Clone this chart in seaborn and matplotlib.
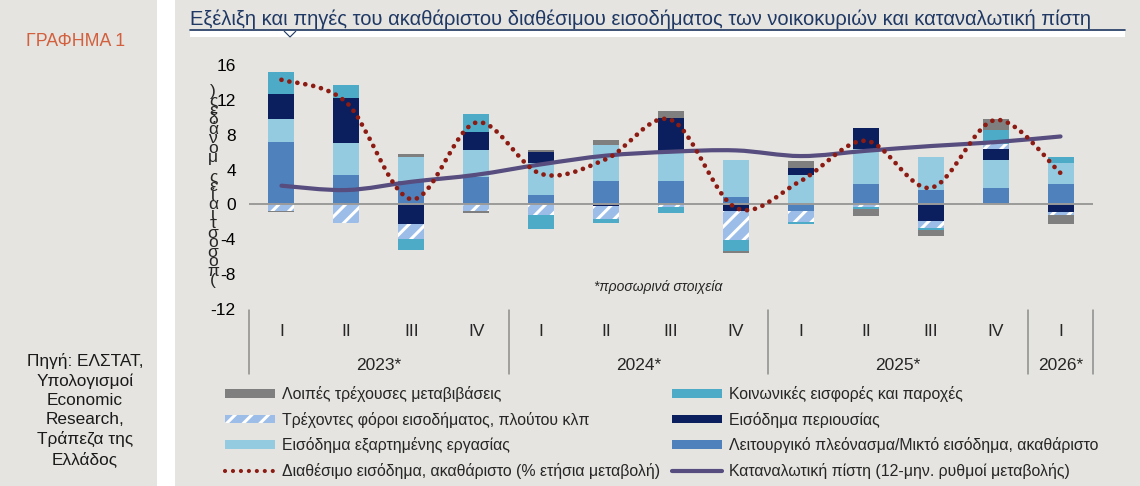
import numpy as np
import pandas as pd
import matplotlib
matplotlib.use('Agg')
import matplotlib.pyplot as plt
import seaborn as sns
from matplotlib.path import Path as MPath
from matplotlib.patches import PathPatch, Rectangle, Polygon, Patch
from matplotlib.lines import Line2D
import matplotlib.transforms as mtrans

#-----------------------------------------------
quarters=['I','II','III','IV','I','II','III','IV','I','II','III','IV','I']
years=['2023*','2024*','2025*','2026*']
year_len=[4,4,4,1]

#components (percentage points), stacked in this order
oper  =[7.15, 3.35, 2.65, 3.15, 1.05, 2.7, 2.65, 0.9, -0.75, 2.4, 1.7, 1.9, 2.4]
wage  =[2.7, 3.65, 2.8, 3.1, 3.7, 4.15, 3.5, 4.2, 3.4, 3.95, 3.75, 3.2, 2.4]
prop  =[2.8, 5.2, -2.3, 2.1, 1.3, -0.2, 3.8, -0.75, 0.75, 2.4, -1.9, 1.3, -0.9]
tax   =[-0.7, -2.1, -1.65, -0.75, -1.25, -1.45, -0.25, -3.35, -1.25, -0.25, -0.8, 0.55, -0.3]
social=[2.5, 1.5, -1.3, 2.0, -1.6, -0.45, -0.7, -1.25, -0.25, -0.25, -0.25, 1.55, 0.7]
other =[-0.2, -0.05, 0.35, -0.25, 0.25, 0.55, 0.75, -0.2, 0.8, -0.8, -0.7, 1.25, -1.1]

#lines
income=[14.3, 11.7, 0.6, 9.4, 3.5, 5.2, 9.7, -0.4, 2.7, 7.3, 1.9, 9.7, 3.6]
credit=[2.15, 1.65, 2.6, 3.4, 4.6, 5.6, 6.05, 6.2, 5.55, 6.15, 6.7, 7.15, 7.8]

lbl_oper='Λειτουργικό πλεόνασμα/Μικτό εισόδημα, ακαθάριστο'
lbl_wage='Εισόδημα εξαρτημένης εργασίας'
lbl_prop='Εισόδημα περιουσίας'
lbl_tax='Τρέχοντες φόροι εισοδήματος, πλούτου κλπ'
lbl_social='Κοινωνικές εισφορές και παροχές'
lbl_other='Λοιπές τρέχουσες μεταβιβάσεις'
lbl_income='Διαθέσιμο εισόδημα, ακαθάριστο (% ετήσια μεταβολή)'
lbl_credit='Καταναλωτική πίστη (12-μην. ρυθμοί μεταβολής)'

#######################################################
bg='#e5e4e0'
c_oper='#4f81bd'
c_wage='#94cbe0'
c_prop='#0b1f5e'
c_tax='#9bbde8'
c_social='#4eabc7'
c_other='#7f7f7f'
c_income='#8c1c13'
c_credit='#574d7e'
c_title='#1f3864'

sns.set_theme(style='white', rc={'axes.facecolor': bg, 'figure.facecolor': bg})
plt.rcParams['font.family']=['Liberation Sans', 'DejaVu Sans']
plt.rcParams['axes.unicode_minus']=False
plt.rcParams['hatch.linewidth']=2.2
plt.rcParams['hatch.color']='white'

W, H=1140, 486
fig=plt.figure(figsize=(W/100, H/100), dpi=100)
ax=fig.add_axes([249/W, 1-309/H, (1093-249)/W, (309-65)/H])
ax.set_facecolor(bg)

#-----------------------------------------------
def smooth_path(y):
    #excel-like smoothed line (cubic bezier through the points)
    y=np.asarray(y, float)
    x=np.arange(len(y), dtype=float)
    n=len(y)
    verts=[(x[0], y[0])]
    codes=[MPath.MOVETO]
    for i in range(n-1):
        a=max(i-1, 0)
        b=min(i+2, n-1)
        c1=(x[i]+(x[i+1]-x[a])/6, y[i]+(y[i+1]-y[a])/6)
        c2=(x[i+1]-(x[b]-x[i])/6, y[i+1]-(y[b]-y[i])/6)
        verts+=[c1, c2, (x[i+1], y[i+1])]
        codes+=[MPath.CURVE4]*3
    return MPath(verts, codes)

#stacked bars, positives up and negatives down
comps=[(oper, c_oper, None), (wage, c_wage, None), (prop, c_prop, None),
       (tax, c_tax, '//'), (social, c_social, None), (other, c_other, None)]
xpos=np.arange(len(quarters))
pos=np.zeros(len(xpos))
neg=np.zeros(len(xpos))
for vals, col, hatch in comps:
    v=np.array(vals, float)
    bottom=np.where(v>=0, pos, neg)
    df=pd.DataFrame({'q': xpos, 'v': v})
    sns.barplot(data=df, x='q', y='v', bottom=bottom, color=col, width=0.4,
                errorbar=None, saturation=1, ax=ax, hatch=hatch,
                edgecolor='white' if hatch else col, linewidth=0, zorder=2)
    pos=pos+np.where(v>=0, v, 0)
    neg=neg+np.where(v<0, v, 0)

ax.axhline(0, color='#9a9a9a', lw=1.4, zorder=2.5)

#smoothed lines
ax.add_patch(PathPatch(smooth_path(credit), fill=False, edgecolor=c_credit, lw=3.0,
                       capstyle='round', zorder=3))
ax.add_patch(PathPatch(smooth_path(income), fill=False, edgecolor=c_income, lw=3.4,
                       linestyle=(0, (0.01, 1.7)), capstyle='round', zorder=4))

#axes
ax.set_xlim(-0.5, len(quarters)-0.5)
ax.set_ylim(-12, 16)
ax.set_yticks(np.arange(-12, 17, 4))
ax.set_xticks([])
ax.set_xlabel('')
ax.set_ylabel('')
ax.tick_params(axis='y', length=0, pad=9.5, labelsize=12.5, labelcolor='black')
sns.despine(ax=ax, left=True, bottom=True)

#category table under the plot
tr=mtrans.blended_transform_factory(ax.transData, ax.transAxes)
for i, q in enumerate(quarters):
    ax.text(i, -0.094, q, transform=tr, ha='center', va='center', fontsize=12.5)
start=-0.5
bounds=[start]
for yr, n in zip(years, year_len):
    ax.text(start+n/2, -0.23, yr, transform=tr, ha='center', va='center', fontsize=12.5)
    start+=n
    bounds.append(start)
for b in bounds:
    ax.add_line(Line2D([b, b], [-0.004, -0.266], transform=tr, color='#8c8c8c', lw=1.1,
                       clip_on=False))

ax.text(0.4846, 0.09, '*προσωρινά στοιχεία', transform=ax.transAxes, ha='center',
        va='center', fontsize=10, style='italic')

#rotated-looking stacked y label
ylab='(ποσοστιαίες μονάδες)'
fig.text(213/W, 1-186/H, '\n'.join(list(ylab)[::-1]), ha='center', va='center',
         fontsize=12.5, linespacing=0.54, multialignment='center')

#left panel and title decorations
fig.patches.append(Rectangle((157/W, 0), 18/W, 1, transform=fig.transFigure,
                             facecolor='white', edgecolor='none', zorder=0))
fig.patches.append(Rectangle((190/W, 1-37/H), (1125-190)/W, 6/H, transform=fig.transFigure,
                             facecolor='white', edgecolor='none', zorder=1))
fig.lines.append(Line2D([190/W, 1125/W], [1-30.5/H, 1-30.5/H], transform=fig.transFigure,
                        color=c_title, lw=1.2))
fig.patches.append(Polygon([(284/W, 1-31/H), (290/W, 1-37/H), (296/W, 1-31/H)], closed=False,
                           transform=fig.transFigure, facecolor='white', edgecolor=c_title,
                           lw=0.8, zorder=2))
fig.text(190/W, 1-19/H, 'Εξέλιξη και πηγές του ακαθάριστου διαθέσιμου εισοδήματος των '
         'νοικοκυριών και καταναλωτική πίστη', ha='left', va='center', fontsize=14.5,
         color=c_title)
fig.text(76/W, 1-42/H, 'ΓΡΑΦΗΜΑ 1', ha='center', va='center', fontsize=12.8, color='#d2603e')
fig.text(85/W, 1-410/H, 'Πηγή: ΕΛΣΤΑΤ,\nΥπολογισμοί\nEconomic\nResearch,\nΤράπεζα της\nΕλλάδος',
         ha='center', va='center', fontsize=12.4, linespacing=1.32, color='#1a1a1a')

#legend
def bar_h(col, hatch=None):
    return Patch(facecolor=col, edgecolor='white' if hatch else col, hatch=hatch, linewidth=0)

h_left=[bar_h(c_other), bar_h(c_tax, '//'), bar_h(c_wage),
        Line2D([], [], color=c_income, lw=3.0, linestyle=(0, (0.01, 1.9)),
               dash_capstyle='round')]
l_left=[lbl_other, lbl_tax, lbl_wage, lbl_income]
h_right=[bar_h(c_social), bar_h(c_prop), bar_h(c_oper), Line2D([], [], color=c_credit, lw=3.0)]
l_right=[lbl_social, lbl_prop, lbl_oper, lbl_credit]
kw=dict(loc='upper left', frameon=False, fontsize=11.4, handlelength=3.15, handleheight=0.45,
        handletextpad=0.42, labelspacing=0.6, borderpad=0, borderaxespad=0)
fig.legend(h_left, l_left, bbox_to_anchor=(225/W, 1-386/H), **kw)
fig.legend(h_right, l_right, bbox_to_anchor=(672/W, 1-386/H), **kw)

plt.savefig('out.png', dpi=100, facecolor=bg)
plt.close()
